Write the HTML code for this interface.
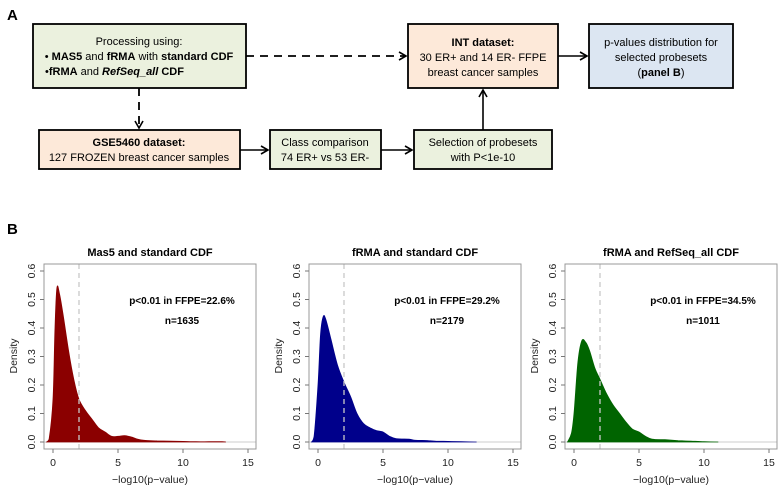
<!DOCTYPE html>
<html><head><meta charset="utf-8"><style>
body{margin:0;background:#fff}
svg{display:block;font-family:"Liberation Sans",Arial,sans-serif}
</style></head><body>
<svg id="root" width="781" height="488" viewBox="0 0 781 488">
<defs><marker id="ah" markerWidth="10" markerHeight="10" refX="8" refY="5" orient="auto" markerUnits="userSpaceOnUse"><path d="M1,1 L8,5 L1,9" fill="none" stroke="#000" stroke-width="1.6"/></marker></defs>
<text x="7" y="20" font-size="15" font-weight="bold">A</text>
<text x="7" y="234" font-size="15" font-weight="bold">B</text>
<g font-size="11" text-anchor="middle">
 <line x1="246" y1="56" x2="406" y2="56" stroke="#000" stroke-width="1.8" stroke-dasharray="8,6" marker-end="url(#ah)"/>
 <line x1="139" y1="88" x2="139" y2="128" stroke="#000" stroke-width="1.8" stroke-dasharray="8,6" marker-end="url(#ah)"/>
 <line x1="240" y1="150" x2="268" y2="150" stroke="#000" stroke-width="1.6" marker-end="url(#ah)"/>
 <line x1="381" y1="150" x2="412" y2="150" stroke="#000" stroke-width="1.6" marker-end="url(#ah)"/>
 <line x1="483" y1="130" x2="483" y2="90" stroke="#000" stroke-width="1.6" marker-end="url(#ah)"/>
 <line x1="558" y1="56" x2="587" y2="56" stroke="#000" stroke-width="1.6" marker-end="url(#ah)"/>
 <g>
  <rect x="33" y="24" width="213" height="64" fill="#ebf1de" stroke="#000" stroke-width="1.8"/>
  <text x="139" y="45">Processing using:</text>
  <text x="139" y="60" text-anchor="middle">• <tspan font-weight="bold">MAS5</tspan> and <tspan font-weight="bold">fRMA</tspan> with <tspan font-weight="bold">standard CDF</tspan></text>
  <text x="45" y="75" text-anchor="start">•<tspan font-weight="bold">fRMA</tspan> and <tspan font-weight="bold" font-style="italic">RefSeq_all</tspan> <tspan font-weight="bold">CDF</tspan></text>
 </g>
 <g>
  <rect x="39" y="130" width="201" height="39" fill="#fde9d9" stroke="#000" stroke-width="1.8"/>
  <text x="139" y="146" font-weight="bold">GSE5460 dataset:</text>
  <text x="139" y="161">127 FROZEN breast cancer samples</text>
 </g>
 <g>
  <rect x="270" y="130" width="111" height="39" fill="#ebf1de" stroke="#000" stroke-width="1.8"/>
  <text x="325" y="146">Class comparison</text>
  <text x="325" y="161">74  ER+ vs 53 ER-</text>
 </g>
 <g>
  <rect x="414" y="130" width="138" height="39" fill="#ebf1de" stroke="#000" stroke-width="1.8"/>
  <text x="483" y="146">Selection of probesets</text>
  <text x="483" y="161">with P&lt;1e-10</text>
 </g>
 <g>
  <rect x="408" y="24" width="150" height="64" fill="#fde9d9" stroke="#000" stroke-width="1.8"/>
  <text x="483" y="46" font-weight="bold">INT dataset:</text>
  <text x="483" y="61">30 ER+ and 14 ER- FFPE</text>
  <text x="483" y="76">breast cancer samples</text>
 </g>
 <g>
  <rect x="589" y="24" width="144" height="64" fill="#dce6f2" stroke="#000" stroke-width="1.8"/>
  <text x="661" y="46">p-values distribution for</text>
  <text x="661" y="61">selected probesets</text>
  <text x="661" y="76">(<tspan font-weight="bold">panel B</tspan>)</text>
 </g>
</g>
<g id="charts"></g>
</svg>
<script>
const titles=["Mas5 and standard CDF","fRMA and standard CDF","fRMA and RefSeq_all CDF"];
const annotations=["p<0.01 in FFPE=22.6%","p<0.01 in FFPE=29.2%","p<0.01 in FFPE=34.5%"];
const counts=["n=1635","n=2179","n=1011"];
const colors=["#8b0000","#00008b","#006400"];
const xTicks=[0,5,10,15];
const yTicks=[0,0.1,0.2,0.3,0.4,0.5,0.6];
const cutoff=2;
const xs1=[-0.5,-0.3,0,0.15,0.3,0.5,0.8,1.2,1.6,2,2.5,3,3.5,4,4.5,5,5.5,6,6.5,7,8,9,10,11,12,13,13.3];
const ys1=[0,0.01,0.15,0.4,0.54,0.52,0.44,0.32,0.22,0.15,0.11,0.08,0.05,0.035,0.02,0.02,0.022,0.018,0.01,0.006,0.004,0.003,0.002,0.001,0.001,0.001,0];
const xs2=[-0.5,-0.3,0,0.2,0.4,0.6,1,1.5,2,2.5,3,3.5,4,4.5,5,5.5,6,7,7.5,8.5,9,10,11,12.2];
const ys2=[0,0.02,0.2,0.38,0.44,0.43,0.36,0.27,0.21,0.16,0.1,0.065,0.05,0.04,0.035,0.02,0.012,0.01,0.006,0.005,0.003,0.002,0.001,0];
const xs3=[-0.5,-0.2,0,0.3,0.6,0.9,1.2,1.6,2,2.5,3,3.5,4,4.5,5,5.5,6,7,8,9,10,11.1];
const ys3=[0,0.03,0.1,0.28,0.355,0.35,0.32,0.26,0.22,0.17,0.13,0.1,0.07,0.045,0.035,0.02,0.01,0.008,0.005,0.003,0.001,0];
const seriesX=[xs1,xs2,xs3], seriesY=[ys1,ys2,ys3];
const NS="http://www.w3.org/2000/svg";
const root=document.getElementById("charts");
function mk(tag,attrs,parent){const e=document.createElementNS(NS,tag);for(const k in attrs)e.setAttribute(k,attrs[k]);parent.appendChild(e);return e;}
function smooth(pts){
 let d="";
 for(let i=0;i<pts.length-1;i++){
  const p0=pts[Math.max(0,i-1)],p1=pts[i],p2=pts[i+1],p3=pts[Math.min(pts.length-1,i+2)];
  const c1x=p1[0]+(p2[0]-p0[0])/6,c1y=p1[1]+(p2[1]-p0[1])/6;
  const c2x=p2[0]-(p3[0]-p1[0])/6,c2y=p2[1]-(p3[1]-p1[1])/6;
  d+=" C"+c1x.toFixed(1)+","+Math.min(c1y,442).toFixed(1)+" "+c2x.toFixed(1)+","+Math.min(c2y,442).toFixed(1)+" "+p2[0].toFixed(1)+","+p2[1].toFixed(1);
 }
 return d;
}
const boxLefts=[44,309,565], boxW=212, boxT=264, boxB=449;
for(let p=0;p<3;p++){
 const L=boxLefts[p];
 const sx=v=>L+9+v*13;
 const sy=v=>442-v*285;
 const g=mk("g",{},root);
 
 
 const t=mk("text",{x:L+106,y:256,"font-size":"11","font-weight":"bold","text-anchor":"middle"},g);t.textContent=titles[p];
 
 
 mk("line",{x1:L,x2:L+boxW,y1:sy(0),y2:sy(0),stroke:"#ccc","stroke-width":"1"},g);
 const pts=seriesX[p].map((x,i)=>[sx(x),sy(seriesY[p][i])]);
 let d="M"+pts[0][0].toFixed(1)+","+pts[0][1].toFixed(1)+smooth(pts)+" Z";
 const a=mk("path",{d:d,fill:colors[p],stroke:colors[p],"stroke-width":"0.8"},g);
 
 
 const c=mk("line",{x1:sx(cutoff),x2:sx(cutoff),y1:boxT,y2:boxB,stroke:"#c8c8c8","stroke-width":"1.3","stroke-dasharray":"5,4"},g);
 
 
 const fr=mk("rect",{x:L,y:boxT,width:boxW,height:boxB-boxT,fill:"none",stroke:"#999","stroke-width":"1"},g);
 
 
 const a1=mk("text",{x:L+138,y:304,"font-size":"10","font-weight":"bold","text-anchor":"middle"},g);a1.textContent=annotations[p];
 
 
 const a2=mk("text",{x:L+138,y:324,"font-size":"10","font-weight":"bold","text-anchor":"middle"},g);a2.textContent=counts[p];
 
 
 xTicks.forEach(v=>{
  mk("line",{x1:sx(v),x2:sx(v),y1:boxB,y2:boxB+4,stroke:"#777"},g);
  const tx=mk("text",{x:sx(v),y:466,"font-size":"10.5","text-anchor":"middle",fill:"#222"},g);tx.textContent=v;
  
  
 });
 yTicks.forEach(v=>{
  mk("line",{x1:L-4,x2:L,y1:sy(v),y2:sy(v),stroke:"#777"},g);
  const ty=mk("text",{x:L-9,y:sy(v),"font-size":"10.5","text-anchor":"middle",fill:"#222",transform:"rotate(-90 "+(L-9)+" "+sy(v)+")"},g);ty.textContent=v.toFixed(1);
  
  
 });
 const xl=mk("text",{x:L+106,y:483,"font-size":"10.5","text-anchor":"middle",fill:"#222"},g);xl.textContent="\u2212log10(p\u2212value)";
 
 
 const yl=mk("text",{x:L-27,y:356,"font-size":"10.5","text-anchor":"middle",fill:"#222",transform:"rotate(-90 "+(L-27)+" 356)"},g);yl.textContent="Density";
 
 
}
</script>
</body></html>
